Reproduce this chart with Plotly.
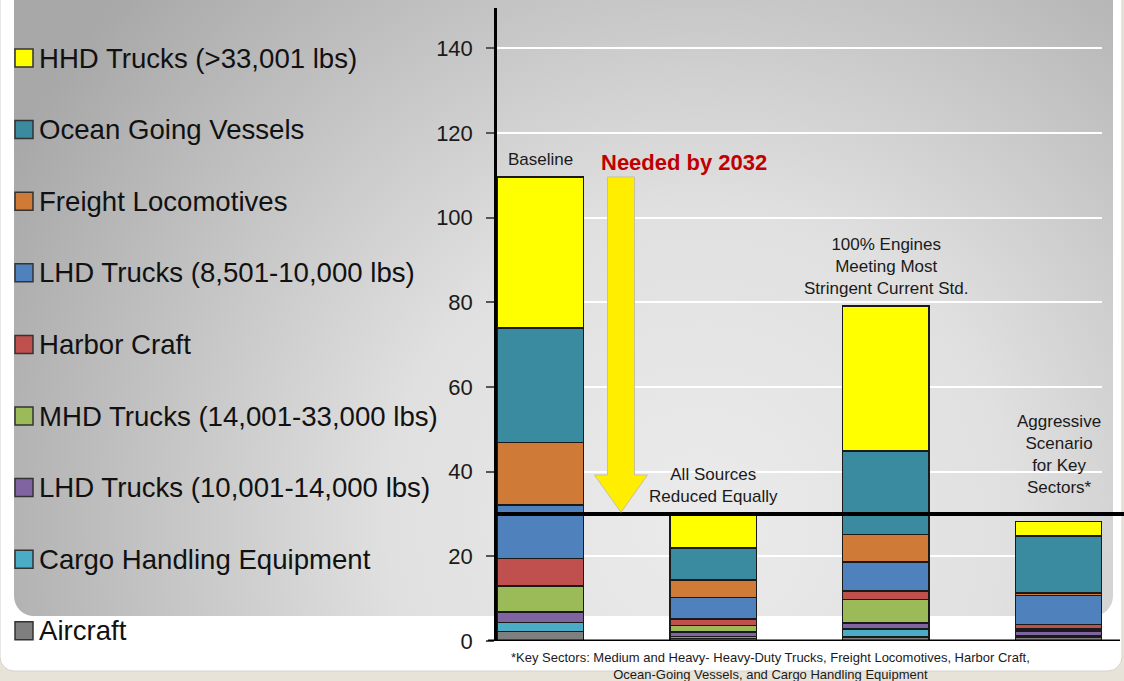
import base64
import plotly.graph_objects as go

# Scenario categories (x) and their caption text
scenarios = [
    "Baseline",
    "All Sources Reduced Equally",
    "100% Engines Meeting Most Stringent Current Std.",
    "Aggressive Scenario for Key Sectors*",
]
scenario_captions = [
    "Baseline",
    "All Sources<br>Reduced Equally",
    "100% Engines<br>Meeting Most<br>Stringent Current Std.",
    "Aggressive<br>Scenario<br>for Key<br>Sectors*",
]

# Emissions by source, stacked bottom to top
aircraft = [2.2, 0.55, 1.0, 0.9]
cargo_handling = [2.2, 0.55, 1.8, 0.3]
lhd_trucks_10_14k = [2.4, 1.0, 1.4, 1.2]
mhd_trucks = [6.2, 1.6, 5.6, 0.4]
harbor_craft = [6.5, 1.5, 2.0, 1.1]
lhd_trucks_8_10k = [12.6, 5.1, 6.9, 6.8]
freight_locomotives = [14.8, 4.1, 6.5, 0.6]
ocean_vessels = [27.0, 7.6, 19.7, 13.5]
hhd_trucks = [35.7, 7.6, 34.2, 3.4]

target_2032 = 30
y_ticks = [0, 20, 40, 60, 80, 100, 120, 140]

series = [
    ("Aircraft", aircraft, "#7f7f7f"),
    ("Cargo Handling Equipment", cargo_handling, "#4bacc6"),
    ("LHD Trucks (10,001-14,000 lbs)", lhd_trucks_10_14k, "#8064a2"),
    ("MHD Trucks (14,001-33,000 lbs)", mhd_trucks, "#9bbb59"),
    ("Harbor Craft", harbor_craft, "#c0504d"),
    ("LHD Trucks (8,501-10,000 lbs)", lhd_trucks_8_10k, "#4f81bd"),
    ("Freight Locomotives", freight_locomotives, "#cf7b37"),
    ("Ocean Going Vessels", ocean_vessels, "#3a8aa0"),
    ("HHD Trucks (>33,001 lbs)", hhd_trucks, "#ffff00"),
]

W, H = 1124, 681
ML, MR, MT, MB = 497, 22, 8, 40
PW, PH = W - ML - MR, H - MT - MB

FONT = "Liberation Sans, Arial, sans-serif"

fig = go.Figure()
for name, vals, color in series:
    fig.add_trace(go.Bar(
        x=scenarios, y=vals, name=name, showlegend=False,
        marker=dict(color=color, line=dict(color="#1a1a1a", width=1.5)),
    ))

totals = [sum(v) for v in zip(*[s[1] for s in series])]

# Slide-style backdrop: beige strip, white card, grey gradient panel
svg = f"""<svg xmlns='http://www.w3.org/2000/svg' width='{W}' height='{H}' viewBox='0 0 {W} {H}'>
<defs>
<radialGradient id='g' gradientUnits='userSpaceOnUse' cx='700' cy='520' r='780'>
<stop offset='0' stop-color='#ebebeb'/>
<stop offset='0.4' stop-color='#e0e0e0'/>
<stop offset='1' stop-color='#a8a8a8'/>
</radialGradient>
</defs>
<rect width='{W}' height='{H}' fill='#e8e3d9'/>
<rect x='0' y='-30' width='1122' height='701' rx='14' fill='#ffffff' stroke='#d6d2ca'/>
<rect x='14' y='-30' width='1099' height='646' rx='20' fill='url(#g)'/>
</svg>"""
bg_uri = "data:image/svg+xml;base64," + base64.b64encode(svg.encode()).decode()


def px_to_paper_x(px):
    return (px - ML) / PW


def px_to_paper_y(py):
    return 1 - (py - MT) / PH


shapes = []
annotations = []

# 2032 target line
shapes.append(dict(type="line", xref="paper", yref="y",
                   x0=0, x1=px_to_paper_x(W), y0=target_2032, y1=target_2032,
                   line=dict(color="black", width=4)))
# baseline axis rule
shapes.append(dict(type="line", xref="paper", yref="y",
                   x0=px_to_paper_x(488), x1=px_to_paper_x(1120), y0=0, y1=0,
                   line=dict(color="black", width=3)))

# Block arrow from the baseline total down to the target
ax = px_to_paper_x(621)
shaft = 13.5 / PW
head = 26.5 / PW
top = totals[0]
tip = target_2032 + 0.4
head_base = target_2032 + 9.2
arrow_path = (f"M{ax - shaft},{top} L{ax + shaft},{top} L{ax + shaft},{head_base} "
              f"L{ax + head},{head_base} L{ax},{tip} L{ax - head},{head_base} "
              f"L{ax - shaft},{head_base} Z")
shapes.append(dict(type="path", xref="paper", yref="y", path=arrow_path,
                   fillcolor="#ffee00", line=dict(color="#c8c29a", width=1),
                   layer="above"))

# Legend column on the left, top entry = top of the stack
LEG_TOP, LEG_STEP = 58, 71.6
for i, (name, _, color) in enumerate(reversed(series)):
    cy = LEG_TOP + i * LEG_STEP
    shapes.append(dict(type="rect", xref="paper", yref="paper",
                       x0=px_to_paper_x(15), x1=px_to_paper_x(33),
                       y0=px_to_paper_y(cy - 9), y1=px_to_paper_y(cy + 9),
                       fillcolor=color, line=dict(color="#333333", width=1.5)))
    annotations.append(dict(
        x=px_to_paper_x(37), y=px_to_paper_y(cy), xref="paper", yref="paper",
        text=name, showarrow=False, xanchor="left", yanchor="middle",
        font=dict(family=FONT, size=27.6, color="#111111"),
    ))

caption_shift = [6, 6, 6, 15]
for cat, cap, tot, shift in zip(scenarios, scenario_captions, totals, caption_shift):
    annotations.append(dict(
        x=cat, y=max(tot, target_2032), xref="x", yref="y",
        text=cap, showarrow=False, yanchor="bottom", yshift=shift,
        font=dict(family=FONT, size=17, color="#1a1a1a"), align="center",
    ))

annotations.append(dict(
    x=px_to_paper_x(599), y=112.9, xref="paper", yref="y",
    text="<b>Needed by 2032</b>", showarrow=False,
    xanchor="left", yanchor="middle",
    font=dict(family=FONT, size=22, color="#c00000"),
))

annotations.append(dict(
    x=px_to_paper_x(770), y=px_to_paper_y(648), xref="paper", yref="paper",
    text=("*Key Sectors: Medium and Heavy- Heavy-Duty Trucks, Freight Locomotives, Harbor Craft,"
          "<br>Ocean-Going Vessels, and Cargo Handling Equipment"),
    showarrow=False, xanchor="center", yanchor="top", align="center",
    font=dict(family=FONT, size=13, color="#1a1a1a"),
))

fig.update_layout(
    width=W, height=H,
    margin=dict(l=ML, r=MR, t=MT, b=MB, autoexpand=False),
    paper_bgcolor="white",
    plot_bgcolor="rgba(0,0,0,0)",
    barmode="stack",
    bargap=0.5,
    showlegend=False,
    font=dict(family=FONT, color="#1a1a1a"),
    images=[dict(source=bg_uri, xref="paper", yref="paper",
                 x=px_to_paper_x(0), y=px_to_paper_y(0),
                 sizex=W / PW, sizey=H / PH,
                 xanchor="left", yanchor="top", sizing="stretch", layer="below")],
    shapes=shapes,
    annotations=annotations,
    xaxis=dict(range=[-0.25, 3.25], showticklabels=False, showgrid=False,
               zeroline=False, showline=False, ticks=""),
    yaxis=dict(range=[0, 149.5], tickvals=y_ticks, showgrid=True,
               gridcolor="white", gridwidth=2, zeroline=False,
               showline=True, linecolor="black", linewidth=2.5,
               ticks="outside", ticklen=8, tickcolor="#555555", tickwidth=1.5,
               ticklabelstandoff=9,
               tickfont=dict(family=FONT, size=22, color="#1a1a1a")),
)

fig.write_html("out.html")
